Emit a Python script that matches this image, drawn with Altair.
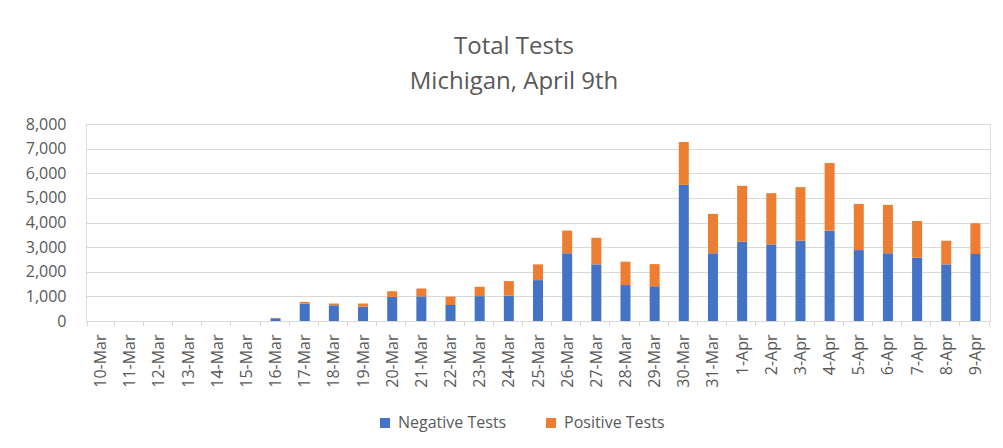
import altair as alt
import pandas as pd

dates = ["10-Mar", "11-Mar", "12-Mar", "13-Mar", "14-Mar", "15-Mar", "16-Mar", "17-Mar",
         "18-Mar", "19-Mar", "20-Mar", "21-Mar", "22-Mar", "23-Mar", "24-Mar", "25-Mar",
         "26-Mar", "27-Mar", "28-Mar", "29-Mar", "30-Mar", "31-Mar", "1-Apr", "2-Apr",
         "3-Apr", "4-Apr", "5-Apr", "6-Apr", "7-Apr", "8-Apr", "9-Apr"]
negative = [0, 0, 0, 0, 0, 0, 110, 700, 640, 580, 980, 1000, 650, 1010, 1030, 1660,
            2750, 2300, 1460, 1410, 5530, 2750, 3220, 3110, 3260, 3670, 2880, 2750,
            2570, 2300, 2720]
positive = [0, 0, 0, 0, 0, 0, 15, 75, 70, 130, 230, 320, 340, 380, 590, 640,
            920, 1080, 950, 900, 1740, 1600, 2270, 2080, 2175, 2745, 1875, 1965,
            1490, 960, 1250]
series = ["Negative Tests", "Positive Tests"]
y_ticks = [0, 1000, 2000, 3000, 4000, 5000, 6000, 7000, 8000]

rows = []
for d, n, p in zip(dates, negative, positive):
    rows.append({"date": d, "series": series[0], "value": n, "k": 0})
    rows.append({"date": d, "series": series[1], "value": p, "k": 1})
df = pd.DataFrame(rows)

FONT = "Open Sans"
GRAY = "#595959"

chart = alt.Chart(df).mark_bar(size=10).encode(
    x=alt.X("date:N", sort=dates, title=None,
            axis=alt.Axis(labelAngle=270, labelAlign="right", labelBaseline="middle",
                          labelPadding=8, labelColor=GRAY, labelFontSize=16, labelFont=FONT,
                          domainColor="#d9d9d9", tickColor="#d9d9d9", tickSize=5,
                          tickBand="extent")),
    y=alt.Y("value:Q", stack="zero", title=None,
            scale=alt.Scale(domain=[0, 8000], nice=False),
            axis=alt.Axis(values=y_ticks, format=",.0f", ticks=False, domain=False,
                          labelPadding=20, labelColor=GRAY, labelFontSize=16, labelFont=FONT,
                          gridColor="#d9d9d9")),
    color=alt.Color("series:N", sort=series,
                    scale=alt.Scale(domain=series, range=["#4472C4", "#ED7D31"]),
                    legend=alt.Legend(title=None, orient="none", direction="horizontal",
                                      legendX=291, legendY=291, symbolType="square",
                                      symbolSize=100, labelFontSize=16, labelFont=FONT,
                                      labelColor=GRAY, columnPadding=36, labelOffset=5)),
    order=alt.Order("k:Q", sort="ascending"),
).properties(
    width=904,
    height=197,
    padding={"left": 78, "top": 116, "right": 5, "bottom": 112},
    autosize=alt.AutoSizeParams(type="none"),
    title=alt.TitleParams(["Total Tests", "Michigan, April 9th"], fontSize=24, font=FONT,
                          fontWeight="normal", color=GRAY, anchor="middle", frame="group",
                          dx=-24, offset=22, lineHeight=35),
).configure_view(stroke=None).configure(background="white")

chart.save("out.html", embed_options={"renderer": "svg", "actions": False})
